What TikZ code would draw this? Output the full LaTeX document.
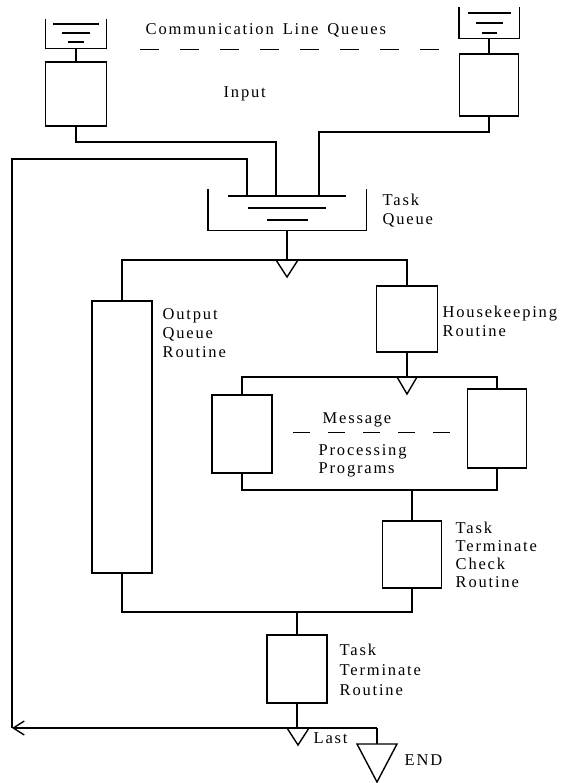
\documentclass[tikz,border=0pt]{standalone}
\usepackage{fontspec}
\setmainfont{Liberation Serif}[LetterSpace=11]
\usetikzlibrary{arrows.meta}
\begin{document}
\begin{tikzpicture}[x=1pt,y=-1pt,line width=1.4pt,
  box/.style={draw,inner sep=0pt},
  queue/.style={inner sep=0pt},
  lbl/.style={font=\fontsize{16.5}{19}\selectfont,inner sep=0pt,align=left,anchor=north west},
  txt/.style={font=\fontsize{16.5}{19}\selectfont,inner sep=0pt,anchor=base west},
  dashln/.style={dash pattern=on 19pt off 21pt},
  tri/.style={draw,line join=miter}]
\path[use as bounding box] (0,0) rectangle (560,783);

% ---- communication line queues
\node[queue,minimum width=60,minimum height=28] (lq) at (76,34) {};
\draw (lq.north west) |- (lq.south) -| (lq.north east);
\draw (53,24) -- (99,24) (62,33) -- (90,33) (68,42) -- (84,42);
\node[queue,minimum width=59,minimum height=30] (rq) at (489,23) {};
\draw (rq.north west) |- (rq.south) -| (rq.north east);
\draw (467.5,13) -- (510.5,13) (475.5,23) -- (502.5,23) (481.5,33) -- (496.5,33);

\node[txt] (clq) at (145,35) {Communication\hspace{3pt} Line\hspace{3pt} Queues};
\draw[dashln] (140,49.5) -- (439,49.5);
\node[txt] (inp) at (223,98) {Input};

% ---- input boxes
\node[box,minimum width=61,minimum height=64] (lb) at (76,94) {};
\node[box,minimum width=59,minimum height=62] (rb) at (489,85) {};
\draw (lq.south) -- (lb.north);
\draw (rq.south) -- (rb.north);

% ---- task queue
\node[queue,minimum width=157,minimum height=40] (tq) at (287,210) {};
\draw (tq.north west) |- (tq.south) -| (tq.north east);
\draw (228,196) -- (346,196) (248,208) -- (326,208) (267,220) -- (308,220);
\node[lbl] (tql) at (382,193.7) {Task\\Queue};
\coordinate (tqL) at (247,196);
\coordinate (tqM) at (276,196);
\coordinate (tqR) at (319,196);
\draw (lb.south) -- (lb.south |- 0,142) -| (tqM);
\draw (rb.south) -- (rb.south |- 0,132) -| (tqR);

% ---- first branch
\coordinate (j1) at (287,260);
\node[box,minimum width=60,minimum height=272] (ob) at (122,437) {};
\node[box,minimum width=61,minimum height=66] (hk) at (407,319) {};
\draw (tq.south) -- (j1);
\draw (ob.north) -- (ob.north |- j1) -- (hk.north |- j1) -- (hk.north);
\draw[tri] (276,260) -- (298,260) -- (287,277) -- cycle;
\node[lbl] (obl) at (162,307.7) {Output\\Queue\\Routine};
\node[lbl] (hkl) at (442,305.7) {Housekeeping\\Routine};

% ---- message processing programs
\coordinate (j2) at (407,377);
\node[box,minimum width=60,minimum height=78] (ml) at (242,434) {};
\node[box,minimum width=59,minimum height=79] (mr) at (497,428.5) {};
\draw (hk.south) -- (j2);
\draw (ml.north) -- (ml.north |- j2) -- (mr.north |- j2) -- (mr.north);
\draw[tri] (397,377) -- (417,377) -- (407,394) -- cycle;
\node[txt] (msg) at (322,423) {Message};
\draw[dash pattern=on 17pt off 18pt] (293,432.5) -- (452,432.5);
\node[lbl,font=\fontsize{16.5}{18}\selectfont] (ppl) at (318,443.7) {Processing\\Programs};

% ---- task terminate check
\coordinate (j3) at (412,490);
\node[box,minimum width=59,minimum height=67] (ttc) at (412,554.5) {};
\draw (ml.south) -- (ml.south |- j3) -- (mr.south |- j3) -- (mr.south);
\draw (j3) -- (ttc.north);
\node[lbl,font=\fontsize{16.5}{18}\selectfont] (ttcl) at (455,521.7) {Task\\Terminate\\Check\\Routine};

% ---- task terminate
\coordinate (j4) at (297,612);
\node[box,minimum width=60,minimum height=68] (tt) at (297,669) {};
\draw (ob.south) -- (ob.south |- j4) -- (ttc.south |- j4) -- (ttc.south);
\draw (j4) -- (tt.north);
\node[lbl,font=\fontsize{16.5}{20}\selectfont] (ttl) at (339,643.7) {Task\\Terminate\\Routine};

% ---- exits
\coordinate (j5) at (297,728);
\coordinate (endj) at (377,728);
\coordinate (endt) at (377,744);
\coordinate (corner) at (12,728);
\coordinate (fb1) at (12,159);
\coordinate (fb2) at (247,159);
\draw (tt.south) -- (j5);
\draw[-{Straight Barb[length=11pt,width=14pt]}] (endj) -- (corner);
\draw (endj) -- (endt);
\draw (corner) -- (fb1) -- (fb2) -- (tqL);
\draw[tri] (287,728) -- (309,728) -- (298,745) -- cycle;
\node[txt] (last) at (313,743) {Last};
\draw[tri] (357,744) -- (397,744) -- (377,782) -- cycle;
\node[txt] (endl) at (404,765) {END};
\end{tikzpicture}
\end{document}
